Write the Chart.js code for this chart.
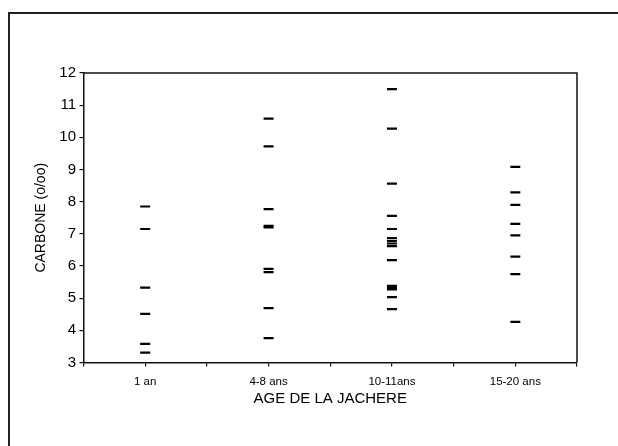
<!DOCTYPE html>
<html>
<head>
<meta charset="utf-8">
<script src="https://cdn.jsdelivr.net/npm/chart.js@4/dist/chart.umd.min.js"></script>
<style>
  html, body { margin: 0; padding: 0; background: #fff; }
  #wrap { position: relative; width: 618px; height: 446px; overflow: hidden; background: #fff; }
  #frame { position: absolute; left: 8px; top: 12px; width: 640px; height: 460px;
           border-left: 2px solid #222; border-top: 2px solid #222; box-sizing: border-box; pointer-events: none; }
  canvas { position: absolute; left: 0; top: 0; }
</style>
</head>
<body>
<div id="wrap">
  <canvas id="c" width="618" height="446"></canvas>
  <div id="frame"></div>
</div>
<script>
// Categories (x positions 1..4)
const categories = ['1 an', '4-8 ans', '10-11ans', '15-20 ans'];
// Carbon values (o/oo) per age class
const values1an    = [7.85, 7.15, 5.33, 4.51, 3.58, 3.31];
const values4_8    = [10.58, 9.72, 7.77, 7.25, 7.2, 5.91, 5.81, 4.69, 3.76];
const values10_11  = [11.5, 10.27, 8.56, 7.56, 7.15, 6.87, 6.78, 6.7, 6.62, 6.18, 5.38, 5.32, 5.27, 5.03, 4.66];
const values15_20  = [9.08, 8.29, 7.9, 7.31, 6.95, 6.29, 5.75, 4.26];
const yTicks = [3, 4, 5, 6, 7, 8, 9, 10, 11, 12];

const seriesList = [values1an, values4_8, values10_11, values15_20];
const points = [];
seriesList.forEach((arr, i) => arr.forEach(v => points.push({ x: i + 1, y: v })));

const boxPlugin = {
  id: 'box',
  afterDraw(chart) {
    const { ctx, chartArea: a } = chart;
    ctx.save();
    ctx.strokeStyle = '#111';
    ctx.lineWidth = 1.5;
    ctx.beginPath();
    ctx.moveTo(a.left, a.top);
    ctx.lineTo(a.right, a.top);
    ctx.lineTo(a.right, a.bottom);
    ctx.stroke();
    ctx.restore();
  }
};

new Chart(document.getElementById('c'), {
  type: 'scatter',
  data: {
    datasets: [{
      data: points,
      pointStyle: 'line',
      pointRadius: 5,
      pointHoverRadius: 5,
      borderColor: '#000',
      backgroundColor: '#000',
      pointBorderWidth: 2.2
    }]
  },
  options: {
    responsive: false,
    devicePixelRatio: 1,
    animation: false,
    events: [],
    layout: { padding: { left: 0, top: 73, right: 41, bottom: 0 } },
    plugins: { legend: { display: false }, tooltip: { enabled: false } },
    scales: {
      x: {
        type: 'linear',
        min: 0.5,
        max: 4.5,
        afterFit(scale) { scale.height = 83.5; },
        afterBuildTicks(scale) {
          const t = [];
          for (let v = 0.5; v <= 4.5; v += 0.5) t.push({ value: v });
          scale.ticks = t;
        },
        ticks: {
          autoSkip: false,
          maxRotation: 0,
          padding: 8,
          color: '#000',
          font: { family: 'Liberation Sans, Arial, sans-serif', size: 11.5 },
          callback: (v) => Number.isInteger(v) ? categories[v - 1] : ''
        },
        grid: { drawOnChartArea: false, drawTicks: true, tickLength: 4, color: '#111', lineWidth: 1.2 },
        border: { display: true, color: '#111', width: 1.5 },
        title: {
          display: true,
          text: 'AGE DE LA JACHERE',
          color: '#000',
          font: { family: 'Liberation Sans, Arial, sans-serif', size: 15 },
          padding: { top: 0, bottom: 38 }
        }
      },
      y: {
        type: 'linear',
        min: 3,
        max: 12,
        afterFit(scale) { scale.width = 83.5; },
        afterBuildTicks(scale) { scale.ticks = yTicks.map(v => ({ value: v })); },
        ticks: {
          padding: 3.5,
          color: '#000',
          font: { family: 'Liberation Sans, Arial, sans-serif', size: 15 }
        },
        grid: { drawOnChartArea: false, drawTicks: true, tickLength: 4, color: '#111', lineWidth: 1.2 },
        border: { display: true, color: '#111', width: 1.5 },
        title: {
          display: true,
          text: 'CARBONE (o/oo)',
          color: '#000',
          font: { family: 'Liberation Sans, Arial, sans-serif', size: 14 },
          padding: { top: 32.6, bottom: 0 }
        }
      }
    }
  },
  plugins: [boxPlugin]
});
</script>
</body>
</html>
